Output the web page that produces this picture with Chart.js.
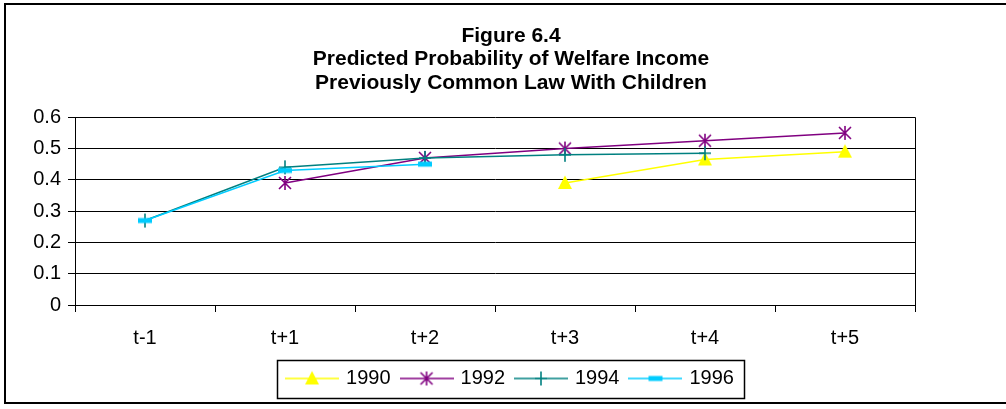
<!DOCTYPE html>
<html>
<head>
<meta charset="utf-8">
<script src="https://cdn.jsdelivr.net/npm/chart.js@4"></script>
<style>
  html, body { margin: 0; padding: 0; overflow: hidden; background: #fff; width: 1006px; height: 409px; }
  canvas { display: block; }
</style>
</head>
<body>
<canvas id="chart" width="1022" height="409"></canvas>
<script>
// ---- data ----
const titleLines = ['Figure 6.4', 'Predicted Probability of Welfare Income', 'Previously Common Law With Children'];
const periods = ['t-1', 't+1', 't+2', 't+3', 't+4', 't+5'];
const seriesNames = ['1990', '1992', '1994', '1996'];
const values1990 = [null, null, null, 0.39, 0.465, 0.49];
const values1992 = [null, 0.39, 0.47, 0.50, 0.525, 0.55];
const values1994 = [0.27, 0.44, 0.47, 0.48, 0.485, null];
const values1996 = [0.27, 0.43, 0.45, null, null, null];
const yTicks = [0, 0.1, 0.2, 0.3, 0.4, 0.5, 0.6];

// ---- styling ----
const FONT = 'Liberation Sans, Arial, Helvetica, sans-serif';
const colors = ['#FFFF00', '#800080', '#008080', '#00CCFF'];
const markerKinds = ['triangle', 'star', 'plus', 'dash'];

// Draws a marker (optionally over a short line segment) into a small canvas.
function markerCanvas(kind, color, width, withLine) {
  const c = document.createElement('canvas');
  c.width = width; c.height = 18;
  const g = c.getContext('2d');
  const cx = width / 2, cy = 9;
  if (withLine) {
    g.strokeStyle = color; g.lineWidth = 1.5;
    g.beginPath(); g.moveTo(0, cy); g.lineTo(width, cy); g.stroke();
  }
  g.strokeStyle = color; g.fillStyle = color; g.lineWidth = 1.6;
  g.beginPath();
  if (kind === 'triangle') {
    g.moveTo(cx, cy - 7.5); g.lineTo(cx + 7, cy + 6); g.lineTo(cx - 7, cy + 6); g.closePath(); g.fill();
  } else if (kind === 'star') {
    g.moveTo(cx - 6, cy - 6); g.lineTo(cx + 6, cy + 6);
    g.moveTo(cx + 6, cy - 6); g.lineTo(cx - 6, cy + 6);
    g.moveTo(cx, cy - 7); g.lineTo(cx, cy + 7);
    g.stroke();
  } else if (kind === 'plus') {
    g.moveTo(cx, cy - 7); g.lineTo(cx, cy + 7);
    g.moveTo(cx - 6, cy); g.lineTo(cx + 6, cy);
    g.stroke();
  } else if (kind === 'dash') {
    g.fillRect(cx - 7, cy - 2.5, 14, 5);
  }
  return c;
}

const pointIcons = markerKinds.map((k, i) => markerCanvas(k, colors[i], 18, false));
const legendIcons = markerKinds.map((k, i) => markerCanvas(k, colors[i], 54, true));

const seriesValues = [values1990, values1992, values1994, values1996];
const datasets = seriesNames.map((name, i) => ({
  label: name,
  data: seriesValues[i],
  borderColor: colors[i],
  backgroundColor: colors[i],
  borderWidth: 1.5,
  pointStyle: pointIcons[i],
  pointRadius: 7,
  pointHoverRadius: 7,
  tension: 0,
  fill: false,
  order: seriesNames.length - 1 - i
}));

// Outer frame, right edge of the plot area, and the box around the legend.
const framePlugin = {
  id: 'frames',
  beforeDraw(chart) {
    const ctx = chart.ctx;
    ctx.save();
    ctx.fillStyle = '#fff';
    ctx.fillRect(0, 0, chart.width, chart.height);
    ctx.restore();
  },
  beforeDatasetsDraw(chart) {
    const { ctx, chartArea } = chart;
    ctx.save();
    ctx.strokeStyle = '#000'; ctx.lineWidth = 1;
    const x = Math.round(chartArea.right) + 0.5;
    ctx.beginPath(); ctx.moveTo(x, chartArea.top); ctx.lineTo(x, chartArea.bottom + 7); ctx.stroke();
    ctx.restore();
  },
  afterDraw(chart) {
    const ctx = chart.ctx;
    ctx.save();
    ctx.strokeStyle = '#000'; ctx.lineWidth = 2;
    ctx.strokeRect(5, 4, 1012, 399);
    const hb = chart.legend.legendHitBoxes;
    if (hb && hb.length) {
      const first = hb[0], last = hb[hb.length - 1];
      const cy = first.top + first.height / 2;
      const left = Math.round(first.left - 11) + 0.5;
      const right = Math.round(last.left + last.width + 10) + 0.5;
      const top = Math.round(cy - 19) + 0.5;
      const bottom = Math.round(cy + 19) + 0.5;
      ctx.lineWidth = 1.5;
      ctx.strokeRect(left, top, right - left, bottom - top);
    }
    ctx.restore();
  }
};

new Chart(document.getElementById('chart'), {
  type: 'line',
  data: { labels: periods, datasets },
  options: {
    responsive: false,
    animation: false,
    events: [],
    layout: { padding: { left: 0, right: 0, top: 0, bottom: 10.5 } },
    plugins: {
      title: {
        display: true,
        text: titleLines,
        color: '#000',
        font: { family: FONT, size: 21, weight: 'bold', lineHeight: 23.5 / 21 },
        padding: { top: 24.25, bottom: 22.5 }
      },
      legend: {
        position: 'bottom',
        labels: {
          usePointStyle: true,
          pointStyleWidth: 48,
          padding: 12,
          color: '#000',
          font: { family: FONT, size: 20 },
          generateLabels(chart) {
            return chart.data.datasets.map((ds, i) => ({
              text: ds.label,
              pointStyle: legendIcons[i],
              fillStyle: 'transparent',
              strokeStyle: 'transparent',
              lineWidth: 0,
              hidden: false,
              datasetIndex: i,
              fontColor: '#000'
            }));
          }
        }
      },
      tooltip: { enabled: false }
    },
    scales: {
      x: {
        offset: true,
        grid: { display: true, drawOnChartArea: false, drawTicks: true, tickLength: 7, color: '#000', offset: true },
        border: { display: true, color: '#000', width: 1 },
        ticks: { color: '#000', font: { family: FONT, size: 20 }, padding: 14, maxRotation: 0 },
        afterFit(scale) { scale.height = 51.5; }
      },
      y: {
        min: 0,
        max: 0.6,
        afterBuildTicks(scale) { scale.ticks = yTicks.map(v => ({ value: v })); },
        grid: { color: '#000', lineWidth: 1, tickLength: 7 },
        border: { display: true, color: '#000', width: 1 },
        ticks: { color: '#000', font: { family: FONT, size: 20 }, padding: 7, callback: v => String(v) },
        afterFit(scale) { scale.width = 75; }
      },
      // empty right-hand axis that only reserves the space right of the plot
      spacer: {
        type: 'linear',
        position: 'right',
        display: true,
        grid: { display: false, drawTicks: false },
        border: { display: false },
        ticks: { display: false },
        afterFit(scale) { scale.width = 107; }
      }
    }
  },
  plugins: [framePlugin]
});
</script>
</body>
</html>
